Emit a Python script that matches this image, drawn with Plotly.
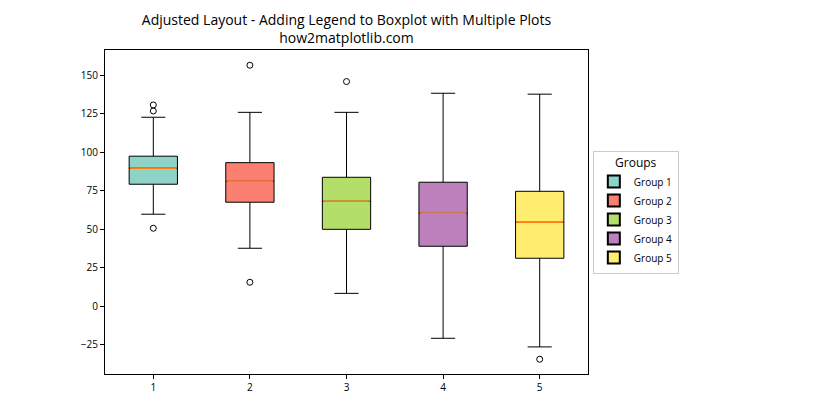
import plotly.graph_objects as go

groups = ["Group 1", "Group 2", "Group 3", "Group 4", "Group 5"]
positions = [1, 2, 3, 4, 5]
q1 = [79.3, 67.6, 50.0, 39.0, 31.2]
median = [89.7, 81.2, 68.2, 60.4, 54.6]
q3 = [97.5, 93.3, 83.8, 80.6, 74.7]
lower_whisker = [59.8, 37.7, 8.4, -20.8, -26.4]
upper_whisker = [122.8, 126.0, 126.0, 138.4, 137.8]
outliers = [[130.8, 126.9, 50.7], [156.6, 15.6], [146.0], [], [-34.4]]
colors = ["#8dd3c7", "#fb8072", "#b3de69", "#bc80bd", "#ffed6f"]
y_ticks = [-25, 0, 25, 50, 75, 100, 125, 150]

fig = go.Figure()
box_w = 0.5
for i, g in enumerate(groups):
    fig.add_trace(go.Box(
        x=[positions[i]], q1=[q1[i]], median=[median[i]], q3=[q3[i]],
        lowerfence=[lower_whisker[i]], upperfence=[upper_whisker[i]],
        name=g, width=box_w, whiskerwidth=0.5,
        fillcolor=colors[i], line=dict(color="black", width=1),
        boxpoints=False, hoverinfo="skip",
    ))
for i, g in enumerate(groups):
    fig.add_trace(go.Scatter(
        x=[positions[i] - box_w / 2 + 0.01, positions[i] + box_w / 2 - 0.01],
        y=[median[i], median[i]], mode="lines",
        line=dict(color="#ff7f0e", width=1.6), showlegend=False, hoverinfo="skip",
    ))
    if outliers[i]:
        fig.add_trace(go.Scatter(
            x=[positions[i]] * len(outliers[i]), y=outliers[i], mode="markers",
            marker=dict(symbol="circle-open", size=6, color="black", line=dict(width=1)),
            showlegend=False, hoverinfo="skip",
        ))

fig.update_layout(
    width=840, height=420,
    margin=dict(l=105, r=252, t=50, b=46),
    paper_bgcolor="white", plot_bgcolor="white",
    font=dict(family="Open Sans, Noto Sans, sans-serif", size=10, color="black"),
    title=dict(
        text="Adjusted Layout - Adding Legend to Boxplot with Multiple Plots<br>how2matplotlib.com",
        x=(105 + 588) / 2 / 840, xanchor="center", y=0.94, yanchor="top",
        font=dict(size=14, color="black"),
    ),
    showlegend=True,
    legend=dict(
        title=dict(text="Groups", font=dict(size=12), side="top center"),
        x=1.01, xanchor="left", y=0.5, yanchor="middle",
        bordercolor="#cccccc", borderwidth=1, bgcolor="white",
        font=dict(size=10), itemsizing="constant",
    ),
    boxmode="overlay",
)
fig.update_xaxes(
    range=[0.5, 5.5], tickmode="array", tickvals=positions,
    ticktext=[str(p) for p in positions],
    showline=True, linecolor="black", linewidth=1, mirror=True,
    ticks="outside", ticklen=4, tickcolor="black", showgrid=False, zeroline=False,
)
fig.update_yaxes(
    range=[-44, 166.5], tickmode="array", tickvals=y_ticks,
    showline=True, linecolor="black", linewidth=1, mirror=True,
    ticks="outside", ticklen=4, tickcolor="black", showgrid=False, zeroline=False,
)
fig.write_html("out.html")
